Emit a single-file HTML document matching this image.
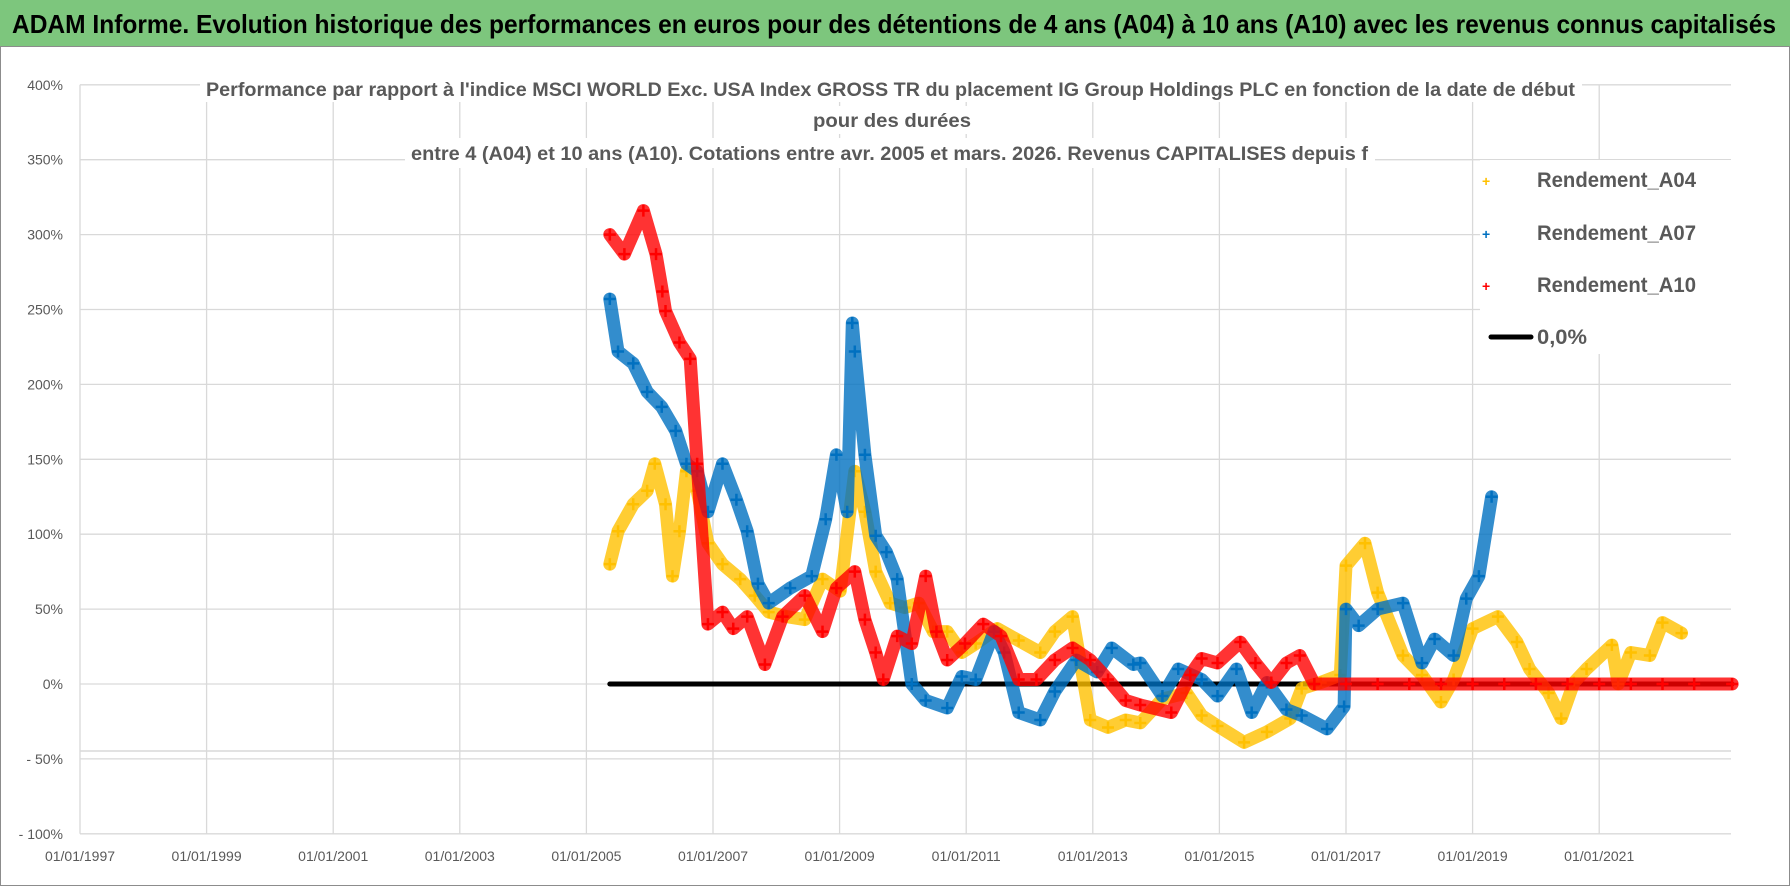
<!DOCTYPE html>
<html><head><meta charset="utf-8"><style>
html,body{margin:0;padding:0;background:#fff;}
svg{display:block;font-family:"Liberation Sans",sans-serif;}
</style></head><body>
<svg id="chart" width="1790" height="886" viewBox="0 0 1790 886" xmlns="http://www.w3.org/2000/svg">
<rect x="0" y="0" width="1790" height="46" fill="#7dc67d"/>
<text x="12" y="33" font-size="26" font-weight="bold" fill="#000" textLength="1764" lengthAdjust="spacingAndGlyphs">ADAM Informe. Evolution historique des performances en euros pour des détentions de 4 ans (A04) à 10 ans (A10) avec les revenus connus capitalisés</text>
<rect x="0.5" y="46.5" width="1789" height="839" fill="none" stroke="#8c8c8c"/>
<g id="grid"></g>
<g id="ylabels"></g>
<g id="xlabels"></g>
<g id="series"></g>
<g font-weight="bold" font-size="19" fill="#595959">
<rect x="200" y="74" width="1382" height="28" fill="#fff"/>
<rect x="805" y="106" width="174" height="28" fill="#fff"/>
<rect x="405" y="138" width="970" height="30" fill="#fff"/>
<text x="206" y="96" textLength="1369" lengthAdjust="spacingAndGlyphs">Performance par rapport à l'indice MSCI WORLD Exc. USA Index GROSS TR  du placement IG Group Holdings PLC en fonction de la date de début</text>
<text x="813" y="127" textLength="158" lengthAdjust="spacingAndGlyphs">pour des durées</text>
<text x="411" y="160" textLength="957" lengthAdjust="spacingAndGlyphs">entre 4 (A04) et 10 ans (A10). Cotations entre avr. 2005 et mars. 2026. Revenus CAPITALISES depuis f</text>
</g>
<g>
<rect x="1480" y="160" width="297" height="194" fill="#fff"/>
<g font-size="21" font-weight="bold" fill="#595959">
<g><text x="1482" y="186" font-size="14" fill="#ffc000">+</text><text x="1537" y="187" textLength="159" lengthAdjust="spacingAndGlyphs">Rendement_A04</text></g>
<g><text x="1482" y="239" font-size="14" fill="#0070c0">+</text><text x="1537" y="240" textLength="159" lengthAdjust="spacingAndGlyphs">Rendement_A07</text></g>
<g><text x="1482" y="291" font-size="14" fill="#ff0000">+</text><text x="1537" y="292" textLength="159" lengthAdjust="spacingAndGlyphs">Rendement_A10</text></g>
<g><line x1="1491" y1="337" x2="1531" y2="337" stroke="#000" stroke-width="5" stroke-linecap="round"/><text x="1537" y="344" textLength="50" lengthAdjust="spacingAndGlyphs">0,0%</text></g>
</g></g>
</svg>
<script>
const yTicks=[400,350,300,250,200,150,100,50,0,-50,-100];
const yTickLabels=["400%","350%","300%","250%","200%","150%","100%","50%","0%","- 50%","- 100%"];
const xTicks=[1997,1999,2001,2003,2005,2007,2009,2011,2013,2015,2017,2019,2021];
const xTickLabels=["01/01/1997","01/01/1999","01/01/2001","01/01/2003","01/01/2005","01/01/2007","01/01/2009","01/01/2011","01/01/2013","01/01/2015","01/01/2017","01/01/2019","01/01/2021"];
const datesA04=[2005.37,2005.5,2005.74,2005.96,2006.08,2006.25,2006.36,2006.47,2006.58,2006.75,2006.92,2007.15,2007.43,2007.66,2007.88,2008.16,2008.45,2008.73,2009.01,2009.24,2009.4,2009.57,2009.8,2010.03,2010.25,2010.48,2010.7,2010.93,2011.15,2011.49,2011.83,2012.17,2012.4,2012.68,2012.96,2013.24,2013.52,2013.75,2014.1,2014.48,2014.72,2014.97,2015.39,2015.75,2016.12,2016.3,2016.6,2016.91,2017.0,2017.3,2017.5,2017.9,2018.2,2018.5,2018.7,2019.0,2019.4,2019.7,2019.9,2020.2,2020.4,2020.6,2020.8,2021.2,2021.3,2021.5,2021.8,2022.0,2022.3];
const valuesA04=[80,102,120,129,147,120,72,102,142,129,94,80,70,59,48,45,43,70,62,142,115,75,54,51,54,35,35,21,27,37,29,21,35,45,-24,-29,-24,-26,-10,-6,-21,-28,-39,-32,-23,-3,1,6,79,94,61,19,6,-12,3,37,45,28,10,-6,-23,1,10,26,0,21,19,41,34];
const datesA07=[2005.37,2005.5,2005.74,2005.96,2006.19,2006.41,2006.58,2006.75,2006.92,2007.15,2007.37,2007.54,2007.71,2007.88,2008.22,2008.56,2008.78,2008.95,2009.12,2009.2,2009.24,2009.4,2009.57,2009.74,2009.91,2010.14,2010.36,2010.7,2010.93,2011.15,2011.44,2011.6,2011.83,2012.17,2012.4,2012.74,2013.07,2013.3,2013.64,2013.75,2014.1,2014.35,2014.72,2014.97,2015.27,2015.51,2015.75,2016.06,2016.3,2016.7,2016.97,2017.0,2017.2,2017.5,2017.9,2018.2,2018.4,2018.7,2018.9,2019.1,2019.3];
const valuesA07=[257,222,214,195,185,169,147,142,115,147,123,102,67,54,64,72,110,153,115,241,222,153,99,88,70,0,-11,-16,5,3,35,21,-19,-24,-5,16,8,24,13,14,-8,10,3,-8,10,-19,1,-17,-21,-30,-15,50,39,50,54,14,30,19,57,72,125];
const datesA10=[2005.37,2005.6,2005.9,2006.1,2006.2,2006.25,2006.47,2006.64,2006.75,2006.92,2007.15,2007.32,2007.54,2007.82,2008.1,2008.45,2008.73,2008.95,2009.24,2009.4,2009.57,2009.69,2009.91,2010.14,2010.36,2010.53,2010.7,2010.98,2011.27,2011.55,2011.83,2012.11,2012.4,2012.68,2012.96,2013.24,2013.52,2013.75,2014.24,2014.54,2014.72,2014.97,2015.33,2015.57,2015.82,2016.06,2016.27,2016.5,2017.0,2017.5,2018.0,2018.5,2019.0,2019.5,2020.0,2020.5,2021.0,2021.5,2022.0,2022.5,2023.1];
const valuesA10=[300,287,316,287,262,249,228,217,147,40,48,37,45,13,45,59,35,64,75,43,21,3,32,27,72,35,16,27,40,32,3,3,16,24,16,3,-11,-14,-19,6,17,14,28,14,1,14,19,0,0,0,0,0,0,0,0,0,0,0,0,0,0];
const zeroStart=2005.37, zeroEnd=2023.1;

const NS="http://www.w3.org/2000/svg";
const X0=80, PXY=63.3, Y0=684, PXV=1.498;
function xScale(yr){return X0+(yr-1997)*PXY;}
function yScale(v){return Y0-v*PXV;}
function mk(tag,attrs,parent){const e=document.createElementNS(NS,tag);for(const k in attrs)e.setAttribute(k,attrs[k]);parent.appendChild(e);return e;}
const grid=document.getElementById('grid'),yl=document.getElementById('ylabels'),xl=document.getElementById('xlabels'),ser=document.getElementById('series');
yTicks.forEach((t,i)=>{
  const ln=mk('line',{x1:X0,x2:1731,y1:yScale(t),y2:yScale(t),stroke:'#d9d9d9','stroke-width':1.3},grid);
  
  
  const tx=mk('text',{x:63,y:yScale(t)+5,'text-anchor':'end','font-size':14,fill:'#595959'},yl);
  tx.textContent=yTickLabels[i];
  
  
});
const extra=mk('line',{x1:X0,x2:1731,y1:751,y2:751,stroke:'#d0d0d0','stroke-width':1.3},grid);


xTicks.forEach((t,i)=>{
  const ln=mk('line',{x1:xScale(t),x2:xScale(t),y1:yScale(400),y2:yScale(-100),stroke:'#d9d9d9','stroke-width':1.3},grid);
  
  
  const tx=mk('text',{x:xScale(t),y:861,'text-anchor':'middle','font-size':14,fill:'#595959'},xl);
  tx.textContent=xTickLabels[i];
  
  
});
const zl=mk('line',{x1:xScale(zeroStart),x2:xScale(zeroEnd),y1:yScale(0),y2:yScale(0),stroke:'#000','stroke-width':5,'stroke-linecap':'round'},ser);


function drawSeries(dates,vals,color,name){
  const g=mk('g',{},ser);
  
  
  const pts=dates.map((d,i)=>xScale(d).toFixed(1)+','+yScale(vals[i]).toFixed(1)).join(' ');
  const pl=mk('polyline',{points:pts,fill:'none',stroke:color,'stroke-width':13,'stroke-linejoin':'round','stroke-linecap':'round','stroke-opacity':0.8},g);
  
  
  dates.forEach((d,i)=>{
    const x=xScale(d),y=yScale(vals[i]);
    const p=mk('path',{d:`M${x-6},${y}H${x+6}M${x},${y-6}V${y+6}`,stroke:color,'stroke-width':2.5},g);
    
    
  });
}
drawSeries(datesA04,valuesA04,'#ffc000','series-a04');
drawSeries(datesA07,valuesA07,'#0070c0','series-a07');
drawSeries(datesA10,valuesA10,'#ff0000','series-a10');
</script>
</body></html>
